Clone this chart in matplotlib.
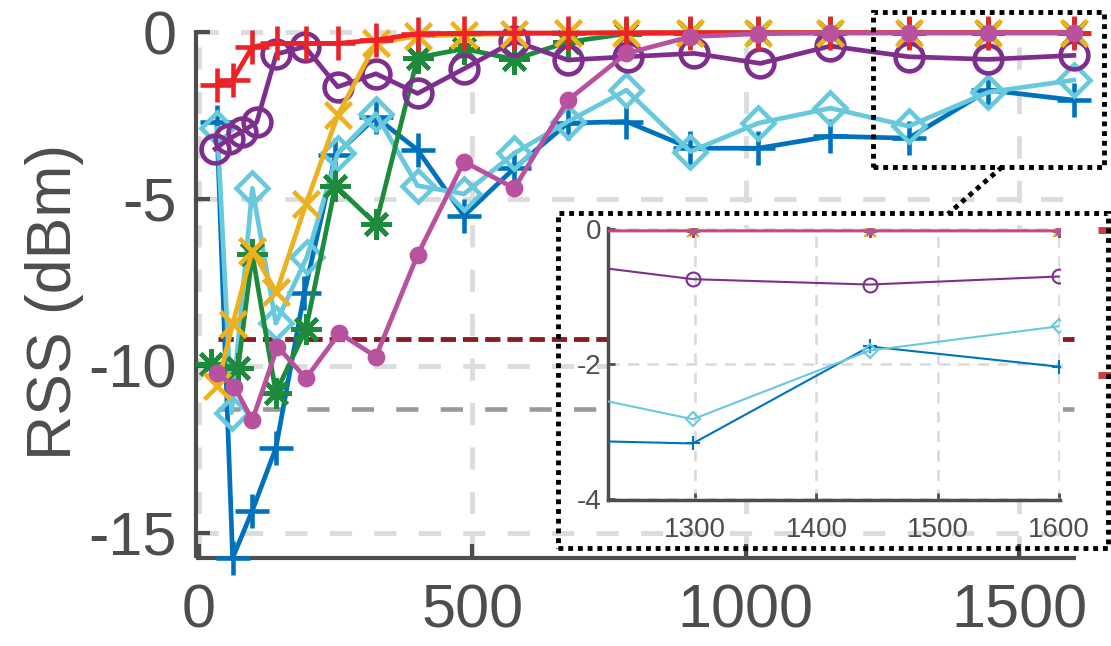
import matplotlib
matplotlib.use('Agg')
import matplotlib.pyplot as plt
from matplotlib.lines import Line2D
from matplotlib.patches import Rectangle

plt.rcParams['font.family'] = ['Liberation Sans', 'DejaVu Sans']
plt.rcParams['axes.unicode_minus'] = False
plt.rcParams['lines.scale_dashes'] = False

# ---------------- data ----------------
x_blue = [33, 62, 98, 141, 193, 250, 324, 400, 485, 577, 675, 782, 899, 1023, 1155, 1298, 1444, 1600]
y_blue = [-2.7, -15.75, -14.33, -12.46, -7.82, -3.68, -2.55, -3.53, -5.5, -4.08, -2.73, -2.68, -3.48, -3.48, -3.12, -3.18, -1.74, -2.04]

x_cyan = [34, 60, 98, 141, 198, 254, 324, 400, 485, 577, 675, 782, 899, 1023, 1155, 1298, 1444, 1600]
y_cyan = [-2.88, -11.4, -4.68, -8.72, -6.73, -3.63, -2.45, -4.6, -4.85, -3.63, -2.68, -1.74, -3.58, -2.73, -2.28, -2.82, -1.8, -1.44]

x_green = [22, 72, 98, 141, 196, 250, 324, 400, 485, 577, 675, 782, 899, 1023, 1155, 1298, 1444, 1600]
y_green = [-9.95, -10.05, -6.65, -10.8, -8.9, -4.6, -5.75, -0.77, -0.5, -0.82, -0.3, -0.05, -0.03, -0.02, -0.02, -0.02, -0.02, -0.02]

x_purple = [30, 55, 80, 106, 142, 194, 254, 324, 400, 485, 577, 675, 784, 906, 1027, 1155, 1298, 1444, 1600]
y_purple = [-3.5, -3.2, -2.98, -2.7, -0.66, -0.44, -1.64, -1.25, -1.84, -1.1, -0.27, -0.84, -0.74, -0.64, -0.94, -0.42, -0.74, -0.82, -0.70]

x_yellow = [34, 62, 98, 142, 196, 254, 324, 400, 485, 577, 675, 782, 899, 1023, 1155, 1298, 1444, 1600]
y_yellow = [-10.6, -8.75, -6.55, -7.8, -5.15, -2.5, -0.33, -0.12, -0.08, -0.05, -0.04, -0.03, -0.02, -0.02, -0.02, -0.02, -0.02, -0.02]

x_red = [34, 62, 98, 143, 196, 254, 324, 400, 485, 577, 675, 782, 899, 1023, 1155, 1298, 1444, 1600]
y_red = [-1.59, -1.44, -0.44, -0.34, -0.34, -0.34, -0.24, -0.05, -0.04, -0.03, -0.03, -0.02, -0.02, -0.02, -0.02, -0.02, -0.02, -0.02]

x_magenta = [34, 65, 98, 144, 196, 257, 324, 400, 485, 577, 675, 782, 899, 1023, 1155, 1298, 1444, 1600]
y_magenta = [-10.22, -10.62, -11.62, -9.42, -10.37, -9.02, -9.72, -6.68, -3.88, -4.68, -2.04, -0.64, -0.14, -0.05, -0.03, -0.03, -0.03, -0.03]

ref_x = [35, 1600]
ref_darkred = -9.2
ref_grey = -11.3

xticks_main = [0, 500, 1000, 1500]
yticks_main = [0, -5, -10, -15]
xticks_inset = [1300, 1400, 1500, 1600]
yticks_inset = [0, -2, -4]

# ---------------- styles ----------------
W, H = 1111, 646
TXT = '#4D4D4D'
C_BLUE = '#0072BD'
C_CYAN = '#68C9DD'
C_GREEN = '#1E8A3C'
C_PURPLE = '#7E2F8E'
C_YELLOW = '#EDB120'
C_RED = '#EC2227'
C_MAG = '#B8529E'

series = [
    (x_blue, y_blue, C_BLUE, '+', 24, 10, 'none'),
    (x_cyan, y_cyan, C_CYAN, 'D', 16, 7, 'none'),
    (x_green, y_green, C_GREEN, (8, 2, 0), 22, 9, 'none'),
    (x_purple, y_purple, C_PURPLE, 'o', 20, 10, 'none'),
    (x_yellow, y_yellow, C_YELLOW, 'x', 19, 8, 'none'),
    (x_red, y_red, C_RED, '+', 24, 10, 'none'),
    (x_magenta, y_magenta, C_MAG, 'o', 9.5, 4.5, 'fill'),
]

fig = plt.figure(figsize=(W / 100, H / 100), dpi=100)
ax = fig.add_axes([196 / W, 1 - 558 / H, (1076 - 196) / W, (558 - 30) / H])
ax.set_xlim(-5, 1604)
ax.set_ylim(-15.75, 0.06)

for sp in ['top', 'right']:
    ax.spines[sp].set_visible(False)
for sp in ['left', 'bottom']:
    ax.spines[sp].set_color(TXT)
    ax.spines[sp].set_linewidth(3)
    ax.spines[sp].set_capstyle('butt')

ax.set_xticks(xticks_main)
ax.set_yticks(yticks_main)
ax.set_xticklabels([str(v) for v in xticks_main])
ax.set_yticklabels([str(v) for v in yticks_main])
ax.tick_params(axis='both', direction='in', length=10, width=3, colors=TXT,
               labelsize=44, labelcolor=TXT)
ax.tick_params(axis='x', pad=18)
ax.tick_params(axis='y', pad=14)
ax.grid(True, color='#DCDCDC', linewidth=3.5, linestyle=(0, (16, 16)))
ax.set_axisbelow(True)

ax.plot(ref_x, [ref_darkred] * 2, color='#8B1C22', lw=3.5, linestyle=(0, (11, 5)), zorder=2.5)
ax.plot(ref_x, [ref_grey] * 2, color='#999999', lw=3.3, linestyle=(0, (16, 16)), zorder=2.5)

for i, (xs, ys, c, m, ms, _, fill) in enumerate(series):
    ax.plot(xs, ys, color=c, lw=3.4, marker=m, markersize=ms,
            markeredgewidth=3.3, markerfacecolor=(c if fill == 'fill' else 'none'),
            markeredgecolor=c, clip_on=False, zorder=3 + i * 0.1)

fig.text(55 / W, 1 - 302 / H, 'RSS (dBm)', rotation=90, ha='center', va='center',
         fontsize=45, color=TXT)

# ---------------- inset ----------------
axi = fig.add_axes([608 / W, 1 - 500 / H, (1060 - 608) / W, (500 - 228) / H])
axi.set_facecolor('white')
axi.set_xlim(1228, 1601)
axi.set_ylim(-4.02, 0.02)
for sp in ['top', 'right']:
    axi.spines[sp].set_visible(False)
for sp in ['left', 'bottom']:
    axi.spines[sp].set_color(TXT)
    axi.spines[sp].set_linewidth(2.5)
axi.set_xticks(xticks_inset)
axi.set_yticks(yticks_inset)
axi.set_xticklabels([str(v) for v in xticks_inset])
axi.set_yticklabels([str(v) for v in yticks_inset])
axi.tick_params(axis='both', direction='in', length=5, width=2, colors=TXT,
                labelsize=20, labelcolor=TXT)
axi.tick_params(axis='x', pad=12)
axi.tick_params(axis='y', pad=5)
axi.grid(True, color='#D9D9D9', linewidth=1.8, linestyle=(0, (8, 6)))
axi.set_axisbelow(True)

for i, (xs, ys, c, m, ms, msi, fill) in enumerate(series):
    axi.plot(xs, ys, color=c, lw=1.5, marker=m, markersize=msi,
             markeredgewidth=1.5, markerfacecolor=(c if fill == 'fill' else 'none'),
             markeredgecolor=c, clip_on=True, zorder=3 + i * 0.1)

# ---------------- zoom annotation (dotted boxes) ----------------
dot = dict(edgecolor='black', facecolor='none', linewidth=3.5, linestyle=(0, (3.5, 3.5)))
small = Rectangle((1233, -4.05), 422, 4.65, transform=ax.transData, clip_on=False,
                  zorder=10, **dot)
ax.add_patch(small)
big = Rectangle((558 / W, 1 - 548 / H), 550 / W, 335 / H, transform=fig.transFigure,
                zorder=10, **dot)
fig.add_artist(big)
fig.add_artist(Line2D([1002 / W, 948 / W], [1 - 167 / H, 1 - 214 / H],
                      transform=fig.transFigure, color='black', lw=3.5,
                      linestyle=(0, (3.5, 3.5)), zorder=10))

# fragments of neighbouring content at the right edge
for yy in [230, 375]:
    fig.add_artist(Line2D([1098 / W, 1111 / W], [1 - yy / H] * 2, transform=fig.transFigure,
                          color='#C8413F', lw=5, solid_capstyle='butt'))

fig.savefig('out.png', dpi=100)
